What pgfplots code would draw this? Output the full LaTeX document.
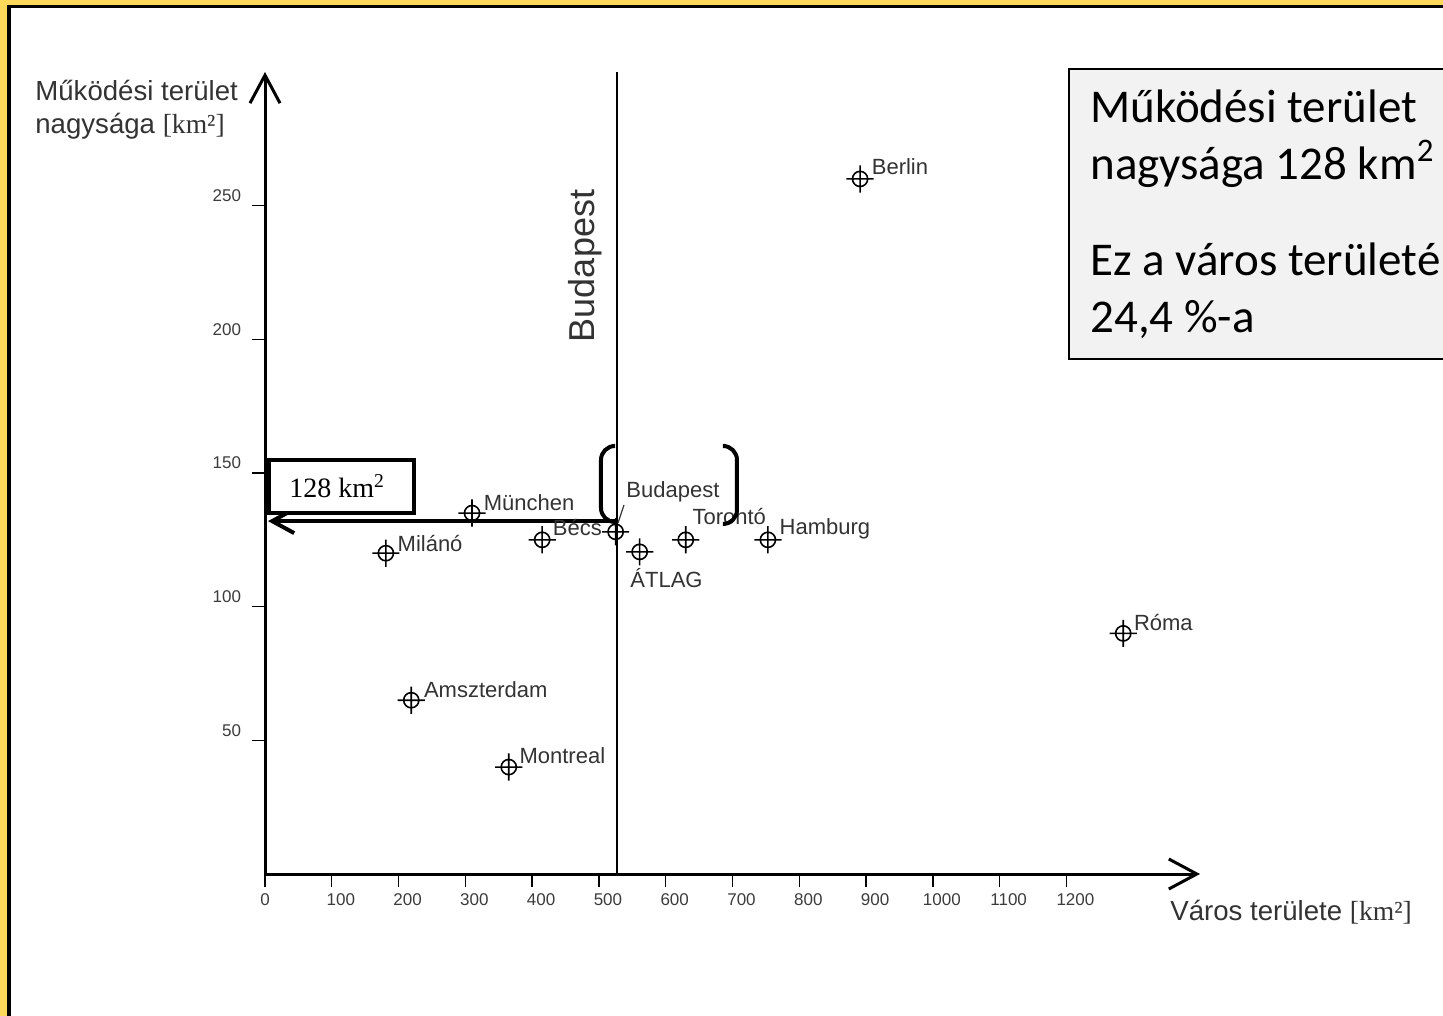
\documentclass[border=0pt]{standalone}
\usepackage{fontspec}
\setmainfont{Liberation Sans}
\newfontfamily\seriffont{Liberation Serif}
\newfontfamily\calibri{Carlito}
\usepackage{pgfplots}
\usepackage{pgfplotstable}
\pgfplotsset{compat=1.18}
\usetikzlibrary{arrows.meta}
\definecolor{frameyellow}{RGB}{252,217,90}
\definecolor{txt}{RGB}{51,51,51}
\definecolor{tickgray}{RGB}{60,60,60}
\definecolor{boxgray}{RGB}{242,242,242}

\pgfdeclareplotmark{target}{%
  \pgfpathcircle{\pgfpointorigin}{3.8bp}%
  \pgfpathmoveto{\pgfpoint{-6.8bp}{0bp}}\pgfpathlineto{\pgfpoint{6.8bp}{0bp}}%
  \pgfpathmoveto{\pgfpoint{0bp}{-6.8bp}}\pgfpathlineto{\pgfpoint{0bp}{6.8bp}}%
  \pgfusepathqstroke}

% x = city area [km2], y = operating area [km2], dx/dy = label offset (px)
\pgfplotstableread{
x    y     label      dx   dy
891  260   Berlin     11   4
1285 90    Róma       10   3
219  65    Amszterdam 12   3
365  40    Montreal   10   4
181  120   Milánó     11   2
310  135   München    11   3
415  125   Bécs       10   4
525  128   Budapest   10   34
561  120.5 ÁTLAG      -10  -36
630  125   Torontó    6    15
753  125   Hamburg    11   5
}\cities

\begin{document}
\begin{tikzpicture}
\useasboundingbox (0,0) rectangle (721.5bp,508bp);
\clip (0,0) rectangle (721.5bp,508bp);
\begin{scope}[shift={(0bp,508bp)}, x=0.5bp, y=-0.5bp]
  \fill[frameyellow] (0,0) rectangle (1443,1016);
  \fill[black] (7,5) rectangle (1443,1016);
  \fill[white] (11,8.5) rectangle (1443,1016);
\end{scope}

\begin{axis}[
  at={(132.5bp,71bp)}, anchor=south west,
  scale only axis, width=467.5bp, height=401bp,
  xmin=0, xmax=1400, ymin=0, ymax=300,
  axis lines*=left,
  axis line style={line width=1.5bp, -{Straight Barb[length=14bp,width=15bp]}},
  clip=false,
  xtick={100,200,...,1200},
  extra x ticks={0},
  extra x tick labels={0},
  extra x tick style={grid=none, xticklabel style={xshift=-4.5bp}},
  ytick={50,100,150,200,250},
  tick align=outside,
  major tick length=6.5bp,
  tick style={line width=0.7bp, black},
  tick label style={font=\fontsize{8.5bp}{10bp}\selectfont, text=tickgray},
  xticklabel style={xshift=4.5bp},
  yticklabel style={xshift=-2bp, yshift=5bp},
  /pgf/number format/assume math mode=true,
  /pgf/number format/1000 sep={},
]
\addplot[black, line width=0.7bp] coordinates {(527,0) (527,300)};

\addplot[only marks, mark=target, mark options={line width=0.8bp, black},
  nodes near coords, point meta=explicit symbolic,
  visualization depends on={\thisrow{dx} \as \dx},
  visualization depends on={\thisrow{dy} \as \dy},
  every node near coord/.append style={anchor=base west, xshift=\dx*0.5bp, yshift=\dy*0.5bp,
     font=\fontsize{11bp}{13bp}\selectfont, text=txt, inner sep=0pt}]
  table[x=x, y=y, meta=label]{\cities};

\draw[line width=2bp, -{Straight Barb[length=11bp,width=12bp]}] (axis cs:525,132) -- (axis cs:4.5,132);
\end{axis}

\begin{scope}[shift={(0bp,508bp)}, x=0.5bp, y=-0.5bp]
  % brackets round the Budapest label
  \draw[line width=2bp, rounded corners=7bp] (614,446) -- (601,446) -- (601,522) -- (614,522);
  \draw[line width=2bp, rounded corners=7bp] (725,446) -- (737,446) -- (737,524) -- (725,524);
  \draw[txt, line width=0.6bp] (618,523) -- (624,505);
  % rotated Budapest label
  \node[rotate=90, font=\fontsize{18bp}{20bp}\selectfont, text=txt] at (585,266) {Budapest};
  % 128 km2 box
  \filldraw[fill=white, draw=black, line width=2bp] (269,460) rectangle (414,513);
  \node[anchor=base west, inner sep=0pt, font=\seriffont\fontsize{14bp}{16bp}\selectfont] at (289,498) {128 km\textsuperscript{2}};
  % axis titles
  \node[anchor=base west, inner sep=0pt, text=txt, font=\fontsize{13.8bp}{16bp}\selectfont] at (35,101) {Működési terület};
  \node[anchor=base west, inner sep=0pt, text=txt, font=\fontsize{13.8bp}{16bp}\selectfont] at (35,134) {nagysága {\seriffont[km²]}};
  \node[anchor=base west, inner sep=0pt, text=txt, font=\fontsize{13.8bp}{16bp}\selectfont] at (1170,921) {Város területe {\seriffont[km²]}};
  % info box
  \filldraw[fill=boxgray, draw=black, line width=0.8bp] (1069,69) rectangle (1470,359);
  \begin{scope}[every node/.style={anchor=base west, inner sep=0pt, font=\calibri\fontsize{23.5bp}{28bp}\selectfont}]
    \node at (1090,123) {Működési terület};
    \node at (1090,180) {nagysága 128 km\textsuperscript{2}};
    \node at (1090,276) {Ez a város területé};
    \node at (1090,333) {24,4 \%-a};
  \end{scope}
\end{scope}
\end{tikzpicture}
\end{document}
